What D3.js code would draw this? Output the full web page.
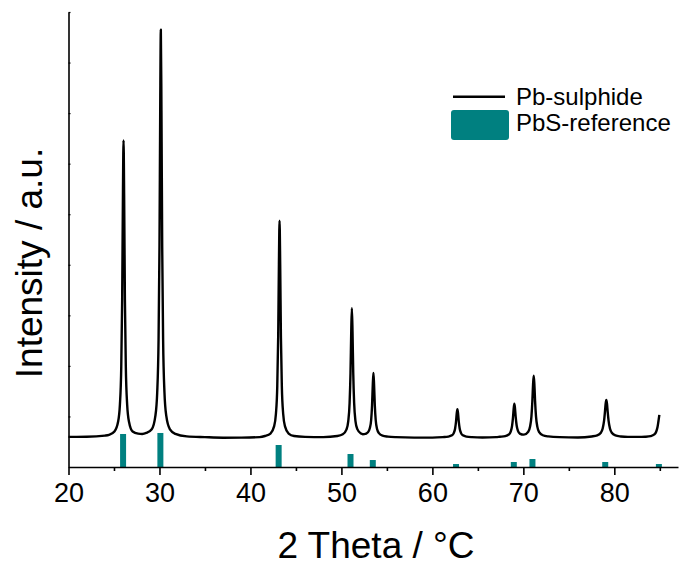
<!DOCTYPE html>
<html>
<head>
<meta charset="utf-8">
<script src="https://cdn.jsdelivr.net/npm/d3@7"></script>
<style>
  html, body { margin: 0; padding: 0; background: #ffffff; }
  svg { display: block; }
  text { font-family: "Liberation Sans", Arial, sans-serif; fill: #000; }
</style>
</head>
<body>
<svg id="chart" width="680" height="566"></svg>
<script>
// ---------- data ----------
const seriesNames = ["Pb-sulphide", "PbS-reference"];

// measured pattern: [2theta, intensity (a.u.)]
const sulphideScan = [
  [20,595],[22,597],[24,620],[24.45,635],[25.05,702],[25.45,895],[25.65,1230],[25.8,1993],[25.9,3325],[25.98,5286],
  [26.05,6460],[26.12,5286],[26.2,3325],[26.3,1993],[26.45,1230],[26.65,895],[27.05,702],[27.65,660],[28.1,654],[28.55,673],
  [29.15,745],[29.55,1010],[29.75,1470],[29.9,2520],[30.0,4350],[30.08,7040],[30.15,8650],[30.22,7040],[30.3,4350],[30.4,2520],
  [30.55,1470],[30.75,1010],[31.15,745],[31.75,655],[33,605],[35,590],[37,580],[39,582],[41,590],[41.6,613],
  [42.2,662],[42.6,803],[42.8,1048],[42.95,1605],[43.05,2580],[43.13,4012],[43.2,4870],[43.27,4012],[43.35,2580],[43.45,1605],
  [43.6,1048],[43.8,803],[44.2,662],[44.8,613],[46,595],[48,590],[49.55,612],[50.15,646],[50.55,740],[50.75,904],
  [50.9,1266],[51.0,1865],[51.08,2684],[51.15,3140],[51.22,2684],[51.3,1865],[51.4,1266],[51.55,904],[51.75,749],[52.15,661],
  [52.35,649],[52.52,650],[52.92,688],[53.12,765],[53.27,930],[53.37,1225],[53.45,1630],[53.52,1860],[53.59,1630],[53.67,1225],
  [53.77,930],[53.92,750],[54.12,670],[54.52,620],[55.12,601],[56,590],[58,582],[60,582],[61.15,591],[61.75,601],
  [62.15,626],[62.35,671],[62.5,762],[62.6,900],[62.68,1064],[62.75,1145],[62.82,1064],[62.9,900],[63.0,762],[63.15,671],
  [63.35,626],[63.75,601],[64.35,591],[65.5,585],[67,590],[67.41,598],[68.01,610],[68.41,644],[68.61,700],[68.76,813],
  [68.86,976],[68.94,1160],[69.01,1254],[69.08,1165],[69.16,985],[69.26,825],[69.41,713],[69.61,661],[70.05,640],[70.54,699],
  [70.74,800],[70.89,1003],[70.99,1304],[71.07,1641],[71.14,1805],[71.21,1641],[71.29,1304],[71.39,1003],[71.54,793],[71.74,690],
  [72.14,628],[72.74,605],[74,590],[76,585],[77.52,604],[78.12,624],[78.52,677],[78.72,761],[78.87,911],[78.97,1092],
  [79.05,1257],[79.12,1325],[79.19,1257],[79.27,1092],[79.37,911],[79.52,761],[79.72,677],[80.12,624],[80.72,604],[81.5,595],
  [83,595],[83.4,598],[84.0,611],[84.4,644],[84.6,697],[84.75,791],[84.85,904],[84.95,1030]
];

// reference stick pattern
const refPositions = [26.0, 30.1, 43.1, 51.0, 53.45, 62.6, 68.95, 71.0, 79.0, 84.9];
const refIntensity = [653, 673, 435, 257, 138, 59, 99, 158, 99, 59];

const xTickValues = [20, 30, 40, 50, 60, 70, 80];
const xMinorTicks = [25, 35, 45, 55, 65, 75, 85];
const yTickValues = [1000, 2000, 3000, 4000, 5000, 6000, 7000, 8000, 9000];

const xTitle = "2 Theta / °C";
const yTitle = "Intensity / a.u.";

// ---------- drawing ----------
const svg = d3.select("#chart");
svg.append("rect").attr("width", 680).attr("height", 566).attr("fill", "#fff");

const teal = "#008080";
const x = d3.scaleLinear().domain([20, 87]).range([68.5, 678]);
const y = d3.scaleLinear().domain([0, 9000]).range([467, 12]);

// reference bars
svg.append("g").selectAll("rect")
  .data(refPositions.map((p, i) => ({ p, v: refIntensity[i] })))
  .join("rect")
  .attr("x", d => x(d.p) - 3)
  .attr("width", 6)
  .attr("y", d => y(d.v))
  .attr("height", d => y(0) - y(d.v))
  .attr("fill", teal);

// measured curve
const line = d3.line()
  .x(d => x(d[0]))
  .y(d => y(d[1]))
  .curve(d3.curveMonotoneX);

svg.append("path")
  .datum(sulphideScan)
  .attr("d", line)
  .attr("fill", "none")
  .attr("stroke", "#000")
  .attr("stroke-width", 2.4)
  .attr("stroke-linejoin", "round");

// x axis
const xAxis = svg.append("g")
  .attr("transform", `translate(0,${y(0)})`)
  .call(d3.axisBottom(x).tickValues(xTickValues).tickSize(8).tickSizeOuter(0).tickPadding(8));
xAxis.select(".domain").attr("stroke-width", 1.6);
xAxis.selectAll(".tick line").attr("stroke-width", 1.6);
xAxis.selectAll(".tick text").attr("font-size", 27).attr("font-family", '"Liberation Sans", Arial, sans-serif');

const xMinor = svg.append("g")
  .attr("transform", `translate(0,${y(0)})`)
  .call(d3.axisBottom(x).tickValues(xMinorTicks).tickSize(4).tickSizeOuter(0).tickFormat(""));
xMinor.select(".domain").remove();
xMinor.selectAll(".tick line").attr("stroke-width", 1.6);

// y axis
const yAxis = svg.append("g")
  .attr("transform", `translate(${x(20)},0)`)
  .call(d3.axisLeft(y).tickValues(yTickValues).tickSize(-2).tickSizeOuter(0).tickFormat(""));
yAxis.select(".domain").attr("stroke-width", 1.6);
yAxis.selectAll(".tick line").attr("stroke-width", 1.2);

// axis titles
svg.append("text")
  .attr("x", 376).attr("y", 558)
  .attr("text-anchor", "middle")
  .attr("font-size", 37)
  .text(xTitle);

svg.append("text")
  .attr("transform", "translate(42,263) rotate(-90)")
  .attr("text-anchor", "middle")
  .attr("font-size", 37)
  .text(yTitle);

// legend
const legend = svg.append("g");
legend.append("line")
  .attr("x1", 453).attr("x2", 505).attr("y1", 96.7).attr("y2", 96.7)
  .attr("stroke", "#000").attr("stroke-width", 2.4);
legend.append("text").attr("x", 516).attr("y", 104.5).attr("font-size", 24).text(seriesNames[0]);
legend.append("rect")
  .attr("x", 451).attr("y", 110).attr("width", 58).attr("height", 30).attr("rx", 3)
  .attr("fill", teal);
legend.append("text").attr("x", 516).attr("y", 131).attr("font-size", 24).text(seriesNames[1]);
</script>
</body>
</html>
